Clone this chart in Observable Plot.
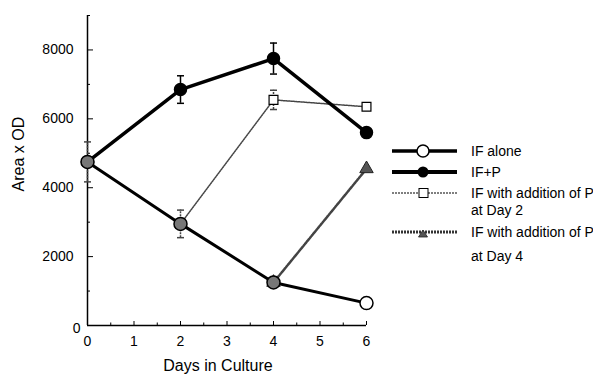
<!DOCTYPE html>
<html><head><meta charset="utf-8">
<script src="https://cdn.jsdelivr.net/npm/d3@7"></script>
<script src="https://cdn.jsdelivr.net/npm/@observablehq/plot@0.6"></script>
<style>
body{margin:0;background:#fff;}
#wrap{position:relative;width:593px;height:378px;font-family:"Liberation Sans",Arial,sans-serif;}
#legend{position:absolute;left:388px;top:135px;}
</style></head><body><div id="wrap"></div>
<script>
// ---- data ----
const days = [0, 2, 4, 6];
const ifAlone = [4750, 2950, 1250, 650];
const ifAloneErr = [580, 400, 0, 0];
const ifP = [4750, 6850, 7750, 5600];
const ifPErr = [0, 400, 450, 0];
const day2Days = [2, 4, 6];
const day2Vals = [2950, 6550, 6350];
const day2Err = [0, 280, 0];
const day4Days = [4, 6];
const day4Vals = [1250, 4550];
const xTicks = [0, 1, 2, 3, 4, 5, 6];
const xMinor = [0.5, 1.5, 2.5, 3.5, 4.5, 5.5];
const yTicks = [2000, 4000, 6000, 8000];
const yZero = [0];
const yMinor = [1000, 3000, 5000, 7000, 9000];
const xLabel = "Days in Culture";
const yLabel = "Area x OD";
const legendLabels = [["IF alone"], ["IF+P"], ["IF with addition of P", "at Day 2"], ["IF with addition of P", "at Day 4"]];

const mk = (xs, ys, es) => xs.map((d, i) => ({day: d, v: ys[i], e: es ? es[i] : 0}));
const sAlone = mk(days, ifAlone, ifAloneErr);
const sP = mk(days, ifP, ifPErr);
const s2 = mk(day2Days, day2Vals, day2Err);
const s4 = mk(day4Days, day4Vals);
const fmt = d => String(d);

const cap = {draw(ctx, size) { const w = Math.sqrt(size / Math.PI); ctx.moveTo(-w, 0); ctx.lineTo(w, 0); }};
const errMarks = (data, stroke, dash, sw) => {
  const d = data.filter(r => r.e > 0);
  return [
    Plot.ruleX(d, {x: "day", y1: r => r.v - r.e, y2: r => r.v + r.e, stroke, strokeWidth: sw, strokeDasharray: dash}),
    Plot.dot(d, {x: "day", y: r => r.v + r.e, symbol: cap, r: 3.5, stroke, strokeWidth: 1.5}),
    Plot.dot(d, {x: "day", y: r => r.v - r.e, symbol: cap, r: 3.5, stroke, strokeWidth: 1.5})
  ];
};

const chart = Plot.plot({
  width: 593, height: 378,
  marginLeft: 87, marginRight: 227, marginTop: 15, marginBottom: 53,
  style: {fontFamily: '"Liberation Sans", Arial, sans-serif', fontSize: "14px", color: "black", background: "white"},
  x: {domain: [0, 6]},
  y: {domain: [0, 9000]},
  marks: [
    Plot.ruleX([0], {stroke: "black", strokeWidth: 1.5}),
    Plot.ruleY([0], {stroke: "black", strokeWidth: 1.5}),
    Plot.axisX(xTicks, {tickSize: -4, tickPadding: 15, label: null, fontSize: 14, tickFormat: fmt}),
    Plot.axisX(xMinor, {tickSize: -2.5, tickFormat: () => "", label: null}),
    Plot.axisY(yTicks, {tickSize: -6, tickPadding: 20, label: null, fontSize: 14, tickFormat: fmt}),
    Plot.axisY(yZero, {tickSize: 0, tickPadding: 7, label: null, fontSize: 14, dy: 3, tickFormat: fmt}),
    Plot.axisY(yMinor, {tickSize: -3, tickFormat: () => "", label: null}),
    Plot.text([xLabel], {text: d => d, frameAnchor: "bottom", dy: 45, dx: -9, fontSize: 16}),
    Plot.text([yLabel], {text: d => d, frameAnchor: "left", rotate: -90, dx: -69, dy: 21, fontSize: 16}),
    ...errMarks(sAlone, "#444", "2,1", 1.5),
    ...errMarks(sP, "black", null, 1.5),
    ...errMarks(s2, "#444", "2,1", 1.5),
    Plot.line(s4, {x: "day", y: "v", stroke: "#444", strokeWidth: 2.5, strokeDasharray: "1.5,1"}),
    Plot.line(s2, {x: "day", y: "v", stroke: "#444", strokeWidth: 1.5, strokeDasharray: "1.5,1"}),
    Plot.line(sAlone, {x: "day", y: "v", stroke: "black", strokeWidth: 3}),
    Plot.line(sP, {x: "day", y: "v", stroke: "black", strokeWidth: 3.5}),
    Plot.dot(s4, {x: "day", y: "v", symbol: "triangle", r: 5, fill: "#555", stroke: "#222", strokeWidth: 1}),
    Plot.dot(s2, {x: "day", y: "v", symbol: "square", r: 5, fill: "white", stroke: "black", strokeWidth: 1.2}),
    Plot.dot(sP, {x: "day", y: "v", r: 6, fill: "black", stroke: "black"}),
    Plot.dot(sAlone, {x: "day", y: "v", r: 6.5, fill: d => d.day < 6 ? "#777" : "white", stroke: "black", strokeWidth: 1.5})
  ]
});

const wrap = document.getElementById("wrap");
wrap.appendChild(chart);

// ---- legend ----
const leg = d3.select(wrap).append("svg").attr("id", "legend").attr("width", 205).attr("height", 130)
  .style("font-family", '"Liberation Sans", Arial, sans-serif').style("font-size", "14px");
const rowY = [16, 37, 58, 97];
const secondDy = [0, 0, 17, 24];
const styles = [
  {stroke: "black", sw: 3.5, dash: null},
  {stroke: "black", sw: 4, dash: null},
  {stroke: "#555", sw: 1.5, dash: "2,1"},
  {stroke: "#333", sw: 3, dash: "2,1"}
];
legendLabels.forEach((lines, i) => {
  const y = rowY[i], s = styles[i];
  leg.append("line").attr("x1", 4).attr("x2", 69).attr("y1", y).attr("y2", y)
    .attr("stroke", s.stroke).attr("stroke-width", s.sw).attr("stroke-dasharray", s.dash);
  if (i === 0) leg.append("circle").attr("cx", 35).attr("cy", y).attr("r", 6).attr("fill", "white").attr("stroke", "black").attr("stroke-width", 1.5);
  if (i === 1) leg.append("circle").attr("cx", 35).attr("cy", y).attr("r", 5.5).attr("fill", "black");
  if (i === 2) leg.append("rect").attr("x", 31).attr("y", y - 4.5).attr("width", 9).attr("height", 9).attr("fill", "white").attr("stroke", "black").attr("stroke-width", 1);
  if (i === 3) leg.append("path").attr("d", `M${35},${y - 2}L${39.5},${y + 5}L${30.5},${y + 5}Z`).attr("fill", "#555").attr("stroke", "#222").attr("stroke-width", 0.8);
  lines.forEach((t, j) => {
    leg.append("text").attr("x", 83).attr("y", y + j * (j ? secondDy[i] : 0)).attr("dy", "0.35em").text(t);
  });
});
</script>
</body></html>
